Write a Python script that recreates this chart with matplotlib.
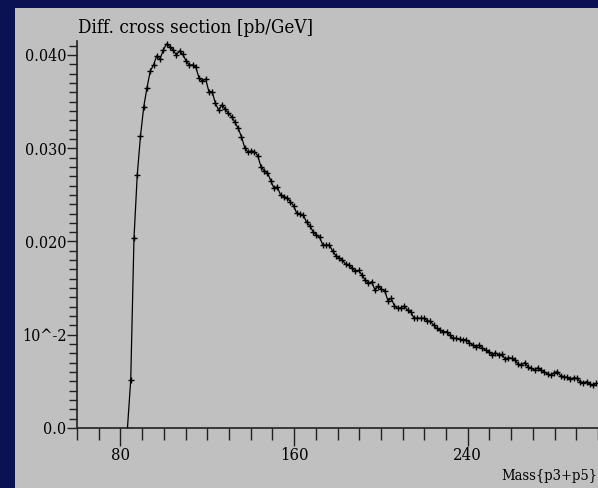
import numpy as np
import matplotlib
matplotlib.use("Agg")
import matplotlib.pyplot as plt
from matplotlib.patches import Rectangle
from matplotlib.ticker import MultipleLocator, FixedLocator

# histogram: 1.5 GeV bins starting at 60 GeV, first filled bin centre 84.75 GeV
BIN_WIDTH = 1.5
FIRST_CENTRE = 84.75
dsigma = [
    0.00515, 0.02034, 0.02713, 0.03131, 0.03446, 0.03650, 0.03828, 0.03893, 0.03993, 0.03957,
    0.04054, 0.04118, 0.04089, 0.04054, 0.04000, 0.04043, 0.04007, 0.03936, 0.03893, 0.03893,
    0.03868, 0.03750, 0.03721, 0.03743, 0.03607, 0.03607, 0.03482, 0.03410, 0.03464, 0.03421,
    0.03375, 0.03339, 0.03278, 0.03214, 0.03124, 0.03006, 0.02957, 0.02971, 0.02964, 0.02920,
    0.02802, 0.02759, 0.02738, 0.02652, 0.02570, 0.02588, 0.02499, 0.02481, 0.02470, 0.02427,
    0.02384, 0.02302, 0.02295, 0.02284, 0.02206, 0.02170, 0.02105, 0.02070, 0.02045, 0.01962,
    0.01962, 0.01962, 0.01898, 0.01848, 0.01826, 0.01802, 0.01755, 0.01753, 0.01712, 0.01684,
    0.01690, 0.01641, 0.01587, 0.01551, 0.01569, 0.01480, 0.01523, 0.01487, 0.01472, 0.01365,
    0.01391, 0.01308, 0.01284, 0.01290, 0.01308, 0.01265, 0.01247, 0.01176, 0.01180, 0.01176,
    0.01176, 0.01151, 0.01144, 0.01105, 0.01069, 0.01051, 0.01033, 0.01033, 0.00997, 0.00962,
    0.00962, 0.00951, 0.00947, 0.00947, 0.00915, 0.00890, 0.00872, 0.00890, 0.00855, 0.00836,
    0.00818, 0.00783, 0.00808, 0.00783, 0.00790, 0.00737, 0.00754, 0.00747, 0.00729, 0.00683,
    0.00679, 0.00701, 0.00658, 0.00640, 0.00622, 0.00647, 0.00622, 0.00604, 0.00579, 0.00568,
    0.00593, 0.00604, 0.00561, 0.00550, 0.00543, 0.00522, 0.00540, 0.00533, 0.00497, 0.00486,
    0.00497, 0.00472, 0.00461, 0.00479,
]
mass = FIRST_CENTRE + BIN_WIDTH * np.arange(len(dsigma))

x_major = [80, 160, 240]
x_major_labels = ["80", "160", "240"]
y_major = [0.0, 0.01, 0.02, 0.03, 0.04]
y_major_labels = ["0.0", "10^-2", "0.020", "0.030", "0.040"]

NAVY = "#0b1254"
PANEL = "#c0c0c0"
FONT = "DejaVu Serif"
STRETCH = "condensed"

W, H = 598, 488
fig = plt.figure(figsize=(W / 100, H / 100), dpi=100, facecolor=NAVY)
fig.patches.append(Rectangle((15 / W, 0), (W - 15) / W, (H - 8) / H,
                             transform=fig.transFigure, facecolor=PANEL,
                             edgecolor="none", zorder=-10))

ax = fig.add_axes([77 / W, 60 / H, (W - 77) / W, (428 - 41) / H])
ax.set_facecolor("none")
for s in ["top", "right"]:
    ax.spines[s].set_visible(False)
for s in ["left", "bottom"]:
    ax.spines[s].set_color("#202020")
    ax.spines[s].set_linewidth(1.2)

# line from the empty bin up, then crosses on the filled bins
ax.plot(np.concatenate([[mass[0] - BIN_WIDTH], mass]), np.concatenate([[0.0], dsigma]),
        color="black", lw=0.9, clip_on=False)
ax.plot(mass, dsigma, ls="none", marker="+", ms=5, mew=1.0, color="black", clip_on=False)

ax.set_xlim(60, 300)
ax.set_ylim(0, 0.0415)

ax.xaxis.set_major_locator(FixedLocator(x_major))
ax.set_xticklabels(x_major_labels)
ax.xaxis.set_minor_locator(MultipleLocator(10))
ax.yaxis.set_major_locator(FixedLocator(y_major))
ax.set_yticklabels(y_major_labels)
ax.yaxis.set_minor_locator(MultipleLocator(0.001))

ax.tick_params(axis="x", which="major", length=13, width=1, color="#202020", pad=1,
               labelsize=12, labelcolor="black")
ax.tick_params(axis="x", which="minor", length=8.6, width=1, color="#202020")
ax.tick_params(axis="y", which="major", length=7, width=1, color="#202020", pad=0.5,
               labelsize=11.5, labelcolor="black")
ax.tick_params(axis="y", which="minor", length=5.8, width=1, color="#202020")
for lab in ax.get_xticklabels() + ax.get_yticklabels():
    lab.set_family(FONT)
    lab.set_fontstretch(STRETCH)

fig.text(78 / W, 1 - 28 / H, "Diff. cross section [pb/GeV]", family=FONT,
         fontstretch=STRETCH, fontsize=13.5, color="black", ha="left", va="center")
fig.text(597 / W, 1 - 476 / H, "Mass{p3+p5}", family=FONT, fontstretch=STRETCH,
         fontsize=10.5, color="black", ha="right", va="center")

fig.savefig("out.png", dpi=100, facecolor=fig.get_facecolor())
